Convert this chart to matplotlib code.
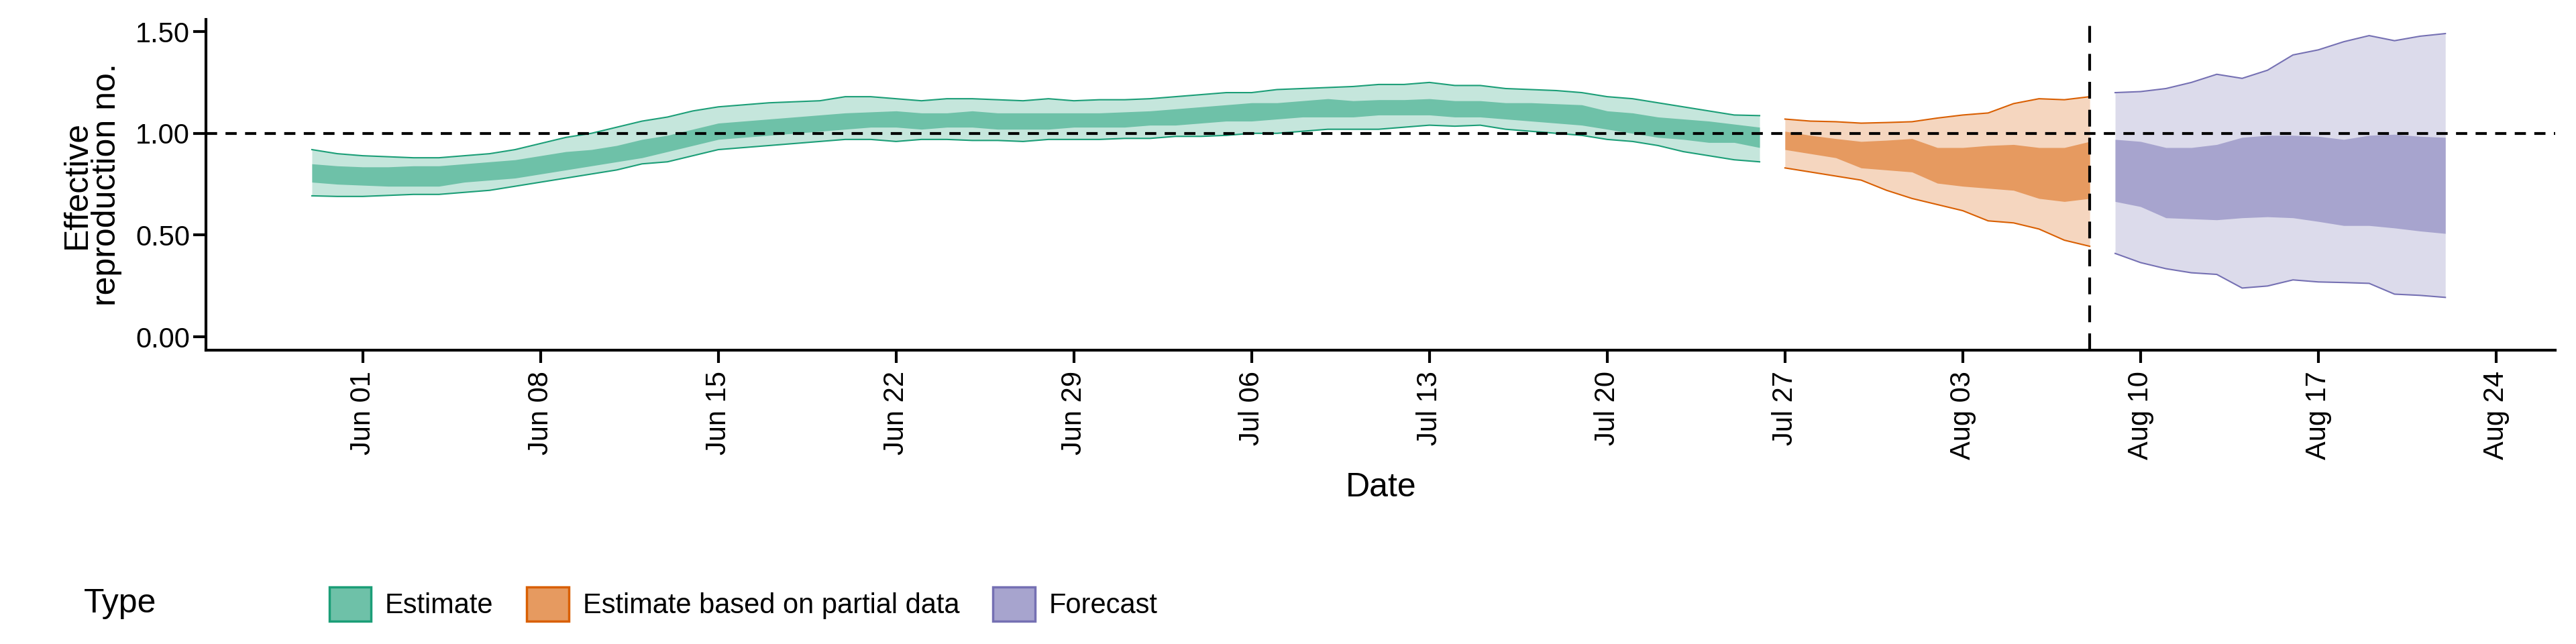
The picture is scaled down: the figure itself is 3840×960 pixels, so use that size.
import matplotlib
matplotlib.use("Agg")
import matplotlib.pyplot as plt
import matplotlib.dates as mdates
from matplotlib.patches import Patch
import pandas as pd

plt.rcParams["font.family"] = ["Liberation Sans", "DejaVu Sans"]

# Estimate: May 30 - Jul 26
est_dates = pd.date_range("2020-05-30", "2020-07-26")
est_upper90 = [0.92, 0.90, 0.89, 0.885, 0.88, 0.88, 0.89, 0.90, 0.92, 0.95, 0.98, 1.00, 1.03, 1.06,
               1.08, 1.11, 1.13, 1.14, 1.15, 1.155, 1.16, 1.18, 1.18, 1.17, 1.16, 1.17, 1.17, 1.165,
               1.16, 1.17, 1.16, 1.165, 1.165, 1.17, 1.18, 1.19, 1.20, 1.20, 1.215, 1.22, 1.225, 1.23,
               1.24, 1.24, 1.25, 1.235, 1.235, 1.22, 1.215, 1.21, 1.20, 1.18, 1.17, 1.15, 1.13, 1.11,
               1.09, 1.087]
est_upper50 = [0.85, 0.84, 0.835, 0.835, 0.84, 0.84, 0.85, 0.86, 0.87, 0.89, 0.91, 0.92, 0.94, 0.97,
               0.99, 1.02, 1.05, 1.06, 1.07, 1.08, 1.09, 1.10, 1.105, 1.11, 1.10, 1.10, 1.11, 1.10,
               1.10, 1.10, 1.10, 1.10, 1.105, 1.11, 1.12, 1.13, 1.14, 1.15, 1.15, 1.16, 1.17, 1.16,
               1.165, 1.165, 1.17, 1.16, 1.16, 1.15, 1.15, 1.145, 1.14, 1.11, 1.10, 1.08, 1.07, 1.06,
               1.045, 1.03]
est_lower50 = [0.76, 0.75, 0.745, 0.74, 0.74, 0.74, 0.76, 0.77, 0.78, 0.80, 0.82, 0.84, 0.86, 0.88,
               0.91, 0.94, 0.97, 0.98, 0.99, 1.00, 1.01, 1.02, 1.03, 1.03, 1.02, 1.03, 1.03, 1.02,
               1.02, 1.02, 1.03, 1.03, 1.03, 1.04, 1.04, 1.05, 1.06, 1.06, 1.07, 1.08, 1.08, 1.08,
               1.09, 1.09, 1.09, 1.08, 1.08, 1.07, 1.06, 1.05, 1.04, 1.02, 1.00, 0.98, 0.97, 0.955,
               0.955, 0.93]
est_lower90 = [0.693, 0.69, 0.69, 0.695, 0.70, 0.70, 0.71, 0.72, 0.74, 0.76, 0.78, 0.80, 0.82, 0.85,
               0.86, 0.89, 0.92, 0.93, 0.94, 0.95, 0.96, 0.97, 0.97, 0.96, 0.97, 0.97, 0.965, 0.965,
               0.96, 0.97, 0.97, 0.97, 0.975, 0.975, 0.985, 0.985, 0.99, 1.00, 1.00, 1.01, 1.02, 1.02,
               1.02, 1.03, 1.04, 1.035, 1.04, 1.02, 1.01, 1.00, 0.99, 0.97, 0.96, 0.94, 0.91, 0.89,
               0.87, 0.86]

# Estimate based on partial data: Jul 27 - Aug 08
part_dates = pd.date_range("2020-07-27", "2020-08-08")
part_upper90 = [1.07, 1.06, 1.057, 1.05, 1.053, 1.057, 1.075, 1.09, 1.10, 1.146, 1.17, 1.165, 1.18]
part_upper50 = [1.01, 0.99, 0.974, 0.96, 0.966, 0.974, 0.93, 0.93, 0.94, 0.945, 0.93, 0.93, 0.96]
part_lower50 = [0.92, 0.90, 0.88, 0.83, 0.82, 0.81, 0.755, 0.74, 0.73, 0.72, 0.68, 0.665, 0.68]
part_lower90 = [0.83, 0.81, 0.79, 0.77, 0.72, 0.68, 0.65, 0.62, 0.57, 0.56, 0.53, 0.475, 0.445]

# Forecast: Aug 09 - Aug 22
fc_dates = pd.date_range("2020-08-09", "2020-08-22")
fc_upper90 = [1.20, 1.205, 1.22, 1.25, 1.29, 1.27, 1.31, 1.385, 1.41, 1.45, 1.48, 1.455, 1.477, 1.49]
fc_upper50 = [0.97, 0.96, 0.93, 0.93, 0.945, 0.98, 0.99, 0.99, 0.985, 0.97, 0.99, 0.995, 0.985, 0.98]
fc_lower50 = [0.665, 0.64, 0.585, 0.58, 0.575, 0.585, 0.59, 0.585, 0.567, 0.547, 0.547, 0.535, 0.52, 0.508]
fc_lower90 = [0.41, 0.365, 0.335, 0.315, 0.307, 0.24, 0.25, 0.28, 0.27, 0.267, 0.263, 0.21, 0.204, 0.194]

series = [
    ("Estimate", est_dates, est_upper90, est_upper50, est_lower50, est_lower90,
     "#1B9E77", "#C5E6DC", "#6EC1A8"),
    ("Estimate based on partial data", part_dates, part_upper90, part_upper50, part_lower50, part_lower90,
     "#D95F02", "#F5D6BF", "#E69A60"),
    ("Forecast", fc_dates, fc_upper90, fc_upper50, fc_lower50, fc_lower90,
     "#7570B3", "#DCDBEB", "#A7A4CE"),
]

fig = plt.figure(figsize=(38.4, 9.6), dpi=100)
ax = fig.add_axes([0.08, 0.456, 0.912, 0.514])

handles = []
for name, d, u90, u50, l50, l90, line_c, outer_c, inner_c in series:
    ax.fill_between(d, l90, u90, color=outer_c, lw=0)
    ax.fill_between(d, l50, u50, color=inner_c, lw=0)
    ax.plot(d, u90, color=line_c, lw=1.5)
    ax.plot(d, l90, color=line_c, lw=1.5)
    handles.append(Patch(facecolor=inner_c, edgecolor=line_c, linewidth=2.5, label=name))

ax.axhline(1.0, color="black", ls=(0, (4, 3)), lw=3)
ax.axvline(pd.Timestamp("2020-08-08"), color="black", ls=(0, (6, 4)), lw=3)

ax.set_ylim(-0.066, 1.56)
ax.set_yticks([0, 0.5, 1.0, 1.5])
ax.set_yticklabels(["0.00", "0.50", "1.00", "1.50"])
ax.set_xlim(pd.Timestamp("2020-05-25 20:00"), pd.Timestamp("2020-08-26 08:00"))
ax.xaxis.set_major_locator(mdates.DayLocator(bymonthday=None, interval=7,
                                             tz=None) if False else
                           mdates.WeekdayLocator(byweekday=mdates.MO))
ax.xaxis.set_major_formatter(mdates.DateFormatter("%b %d"))
ax.tick_params(axis="x", labelrotation=90, labelsize=30, width=3, length=14, pad=8)
ax.tick_params(axis="y", labelsize=30, width=3, length=14)
for s in ["top", "right"]:
    ax.spines[s].set_visible(False)
for s in ["left", "bottom"]:
    ax.spines[s].set_linewidth(3)

ax.set_xlabel("Date", fontsize=36, labelpad=14)
ax.set_ylabel("Effective\nreproduction no.", fontsize=36, labelpad=14, linespacing=0.95)

fig.text(0.0325, 0.062, "Type", fontsize=36, va="center")
fig.legend(handles=handles, loc="center left", bbox_to_anchor=(0.118, 0.062), ncol=3,
           frameon=False, fontsize=30, handlelength=1.5, handleheight=1.5,
           columnspacing=1.2, handletextpad=0.5)

fig.savefig("out.png", dpi=100)
